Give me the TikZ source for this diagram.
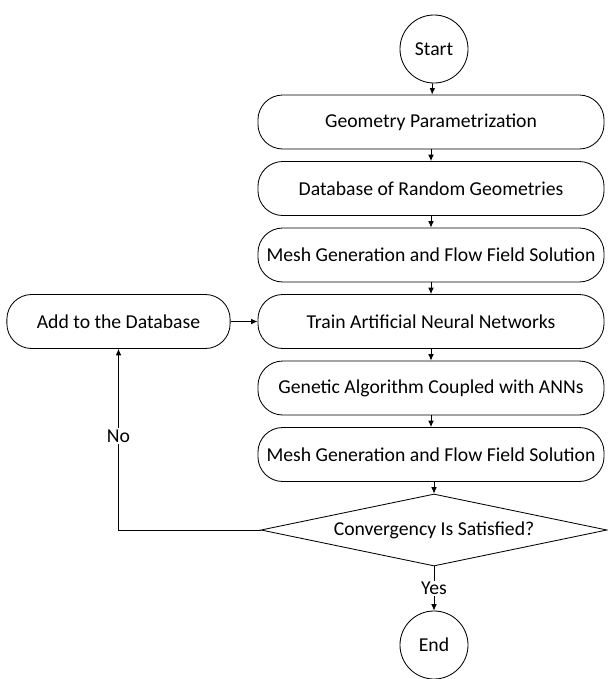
\documentclass[tikz,border=0pt]{standalone}
\usepackage{fontspec}
\setmainfont{Carlito}
\usetikzlibrary{positioning}
\usetikzlibrary{arrows.meta}
\usetikzlibrary{shapes.geometric}

\tikzset{
  stepbox/.style={draw, line width=0.6pt, rounded corners=0.62cm, minimum width=8.65cm, minimum height=1.35cm, inner sep=0pt},
  termcircle/.style={draw, circle, line width=0.6pt, minimum size=1.7cm, inner sep=0pt},
  decide/.style={draw, diamond, line width=0.6pt, minimum width=8.65cm, minimum height=1.8cm, inner sep=0pt, aspect=4.8},
  flow/.style={line width=0.6pt, -{Latex[length=1.6mm,width=1.4mm]}},
  edgelabel/.style={fill=white, inner sep=1pt}
}

\begin{document}
\begin{tikzpicture}[x=0.025cm, y=-0.025cm, font=\fontsize{14}{16}\selectfont]
\useasboundingbox (0,0) rectangle (607,679);

% terminals
{
\node[termcircle] (start) at (434,49) {Start};
\node[termcircle] (end) at (434,645) {End};
}

% process steps
{
\node[stepbox] (geom) at (431,122) {Geometry Parametrization};
\node[stepbox] (data) at (431,188.5) {Database of Random Geometries};
\node[stepbox] (mesh1) at (431,255) {Mesh Generation and Flow Field Solution};
\node[stepbox] (train) at (431,321.5) {Train Artificial Neural Networks};
\node[stepbox] (gen) at (431,388) {Genetic Algorithm Coupled with ANNs};
\node[stepbox] (mesh2) at (431,454.5) {Mesh Generation and Flow Field Solution};

\node[stepbox, minimum width=5.58cm] (add) at (118.5,321.5) {Add to the Database};
}

% decision
\node[decide] (conv) at (434,530) {Convergency Is Satisfied?};

% arrows
{
\draw[flow] (start) -- (geom);
\draw[flow] (geom) -- (data);
\draw[flow] (data) -- (mesh1);
\draw[flow] (mesh1) -- (train);
\draw[flow] (train) -- (gen);
\draw[flow] (gen) -- (mesh2);
\draw[flow] (mesh2.south -| conv) -- (conv);

\draw[flow] (conv) -- node[edgelabel] {Yes} (end);
\draw[flow] (conv.west) -| node[edgelabel, pos=0.76] {No} (add);
\draw[flow] (add) -- (train);
}
\end{tikzpicture}
\end{document}
